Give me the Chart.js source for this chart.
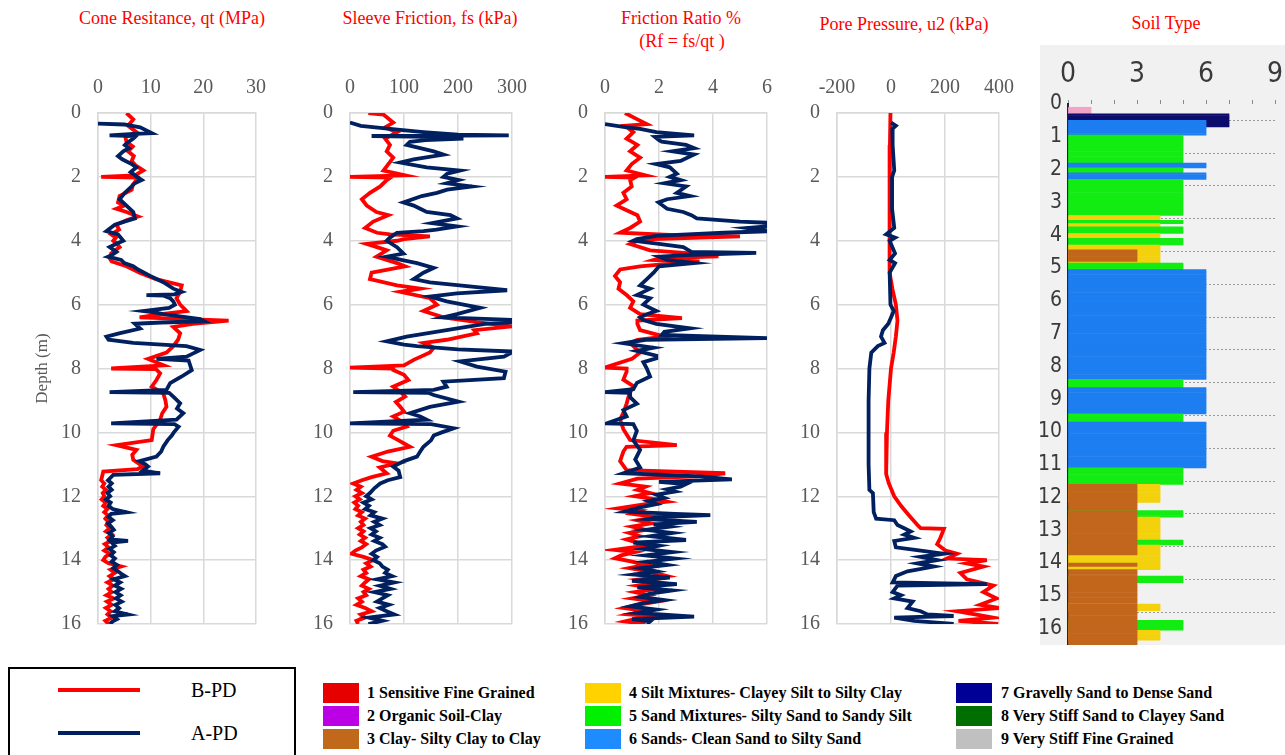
<!DOCTYPE html>
<html>
<head>
<meta charset="utf-8">
<script src="https://cdn.jsdelivr.net/npm/chart.js@4.4.1/dist/chart.umd.min.js"></script>
<style>
  body { margin: 0; width: 1285px; height: 755px; background: #fff; position: relative; overflow: hidden; font-family: 'Liberation Serif', 'Times New Roman', serif; }
  canvas { position: absolute; }
  .title { position: absolute; color: #ff0000; font-size: 18px; line-height: 20px; white-space: nowrap; transform: translate(-50%, -50%); text-align: center; }
  .legbox { position: absolute; left: 8px; top: 667px; width: 284px; height: 110px; border: 2px solid #000; }
  .legline { position: absolute; left: 58px; width: 82px; height: 4px; }
  .legtxt { position: absolute; font-size: 20px; transform: translateY(-50%); }
  .sw { position: absolute; width: 36px; height: 20px; }
  .swtxt { position: absolute; font-weight: bold; font-size: 16px; transform: translateY(-50%); white-space: nowrap; color: #000; }
  #soilbg { position: absolute; left: 1040px; top: 45px; width: 245px; height: 600px; background: #f1f1f1; }
</style>
</head>
<body>
<div class="title" style="left:172px; top:18px;">Cone Resitance, qt (MPa)</div>
<div class="title" style="left:430px; top:18px;">Sleeve Friction, fs (kPa)</div>
<div class="title" style="left:681px; top:18px;">Friction Ratio %</div>
<div class="title" style="left:682px; top:41px;">(Rf = fs/qt )</div>
<div class="title" style="left:904px; top:24px;">Pore Pressure, u2 (kPa)</div>
<div class="title" style="left:1166px; top:23px;">Soil Type</div>

<canvas id="qt" width="280" height="580" style="left:0px; top:60px;"></canvas>
<canvas id="fs" width="246" height="580" style="left:290px; top:60px;"></canvas>
<canvas id="rf" width="246" height="580" style="left:545px; top:60px;"></canvas>
<canvas id="u2" width="246" height="580" style="left:777px; top:60px;"></canvas>
<div id="soilbg"></div>
<canvas id="soil" width="245" height="600" style="left:1040px; top:45px;"></canvas>

<div class="legbox"></div>
<div class="legline" style="top:688px; background:#ff0000;"></div>
<div class="legtxt" style="left:191px; top:690px;">B-PD</div>
<div class="legline" style="top:731px; background:#002060;"></div>
<div class="legtxt" style="left:191px; top:733px;">A-PD</div>
<div id="soilLegend"></div>

<script>
// profondità (m) / valore — A-PD in blu, B-PD in rosso
const qtB = [[0,5.4],[0.2,6.7],[0.4,5.7],[0.6,7.3],[0.75,5.2],[0.9,5.4],[1.05,6.6],[1.2,5.7],[1.35,6.8],[1.5,6.4],[1.65,7.2],[1.8,8.6],[1.95,7.0],[2.0,0.6],[2.02,7.5],[2.1,7.3],[2.25,6.6],[2.4,6.4],[2.6,4.1],[2.8,3.8],[2.9,5.0],[3.0,3.5],[3.1,5.4],[3.24,7.6],[3.35,5.5],[3.5,3.5],[3.65,4.0],[3.8,2.5],[3.9,3.4],[4.0,2.9],[4.1,3.6],[4.2,4.1],[4.3,3.3],[4.4,2.5],[4.55,2.2],[4.65,2.6],[4.8,5.4],[5.0,7.9],[5.2,11],[5.4,15.9],[5.6,15.6],[5.8,14.9],[6.0,15.6],[6.2,16.8],[6.3,12],[6.4,7.9],[6.5,24.8],[6.6,18],[6.7,14.3],[6.9,15.6],[7.1,15.2],[7.3,14.3],[7.5,13],[7.7,9.5],[7.9,12.5],[8.0,2.5],[8.02,11],[8.15,11.8],[8.36,11.1],[8.57,10.2],[8.78,12.4],[9.0,12.8],[9.2,13],[9.4,12.2],[9.6,11.8],[9.9,10.5],[10.24,10.2],[10.4,3.5],[10.55,7.3],[10.7,6.5],[10.86,6.7],[11.07,8.6],[11.15,7.5],[11.23,1.0],[11.5,0.6],[11.6,1.2],[11.7,0.8],[11.8,1.5],[11.9,0.9],[12.0,1.2],[12.1,0.7],[12.2,1.5],[12.3,1.0],[12.4,1.8],[12.5,1.2],[12.6,1.9],[12.7,1.4],[12.8,2.0],[12.9,1.6],[13.0,2.2],[13.1,1.5],[13.2,2.6],[13.3,1.8],[13.4,2.4],[13.5,1.3],[13.6,2.0],[13.7,1.2],[13.8,2.2],[13.9,1.4],[14.0,1.0],[14.1,2.0],[14.2,4.4],[14.3,2.4],[14.4,3.2],[14.5,2.2],[14.6,3.0],[14.7,1.8],[14.8,2.8],[14.9,2.0],[15.0,2.6],[15.1,1.6],[15.2,3.0],[15.3,1.7],[15.4,2.6],[15.5,1.5],[15.6,2.4],[15.7,1.8],[15.8,2.6],[15.9,1.4],[16.0,2.0]];
const qtA = [[0.33,0],[0.36,5],[0.45,8],[0.63,10.2],[0.66,6],[0.7,2.2],[0.72,7.2],[0.8,6.7],[0.95,5.4],[1.0,5.1],[1.1,5.9],[1.2,4.8],[1.35,3.8],[1.45,4.6],[1.6,6.4],[1.7,7.3],[1.85,6.2],[2.0,7.4],[2.1,8.3],[2.2,7.0],[2.3,6.4],[2.5,5.1],[2.7,4.1],[2.9,5.4],[3.1,6.7],[3.3,7.0],[3.4,5.0],[3.5,3.2],[3.65,2.0],[3.7,1.6],[3.8,3.8],[4.0,4.8],[4.1,3.4],[4.2,2.2],[4.35,3.5],[4.45,2.6],[4.5,1.9],[4.6,4.4],[4.7,5.0],[4.8,6.7],[4.9,7.6],[5.1,9.9],[5.3,12.4],[5.5,14.3],[5.6,15.9],[5.68,14.5],[5.7,9.2],[5.72,12.5],[5.8,13.7],[5.9,14.3],[6.0,14.6],[6.1,13.5],[6.2,8.6],[6.25,11],[6.3,12.4],[6.45,19.4],[6.52,20.2],[6.56,12],[6.6,7.0],[6.75,8.0],[6.9,4],[7.0,1.6],[7.1,2.0],[7.2,6.7],[7.3,16.8],[7.42,19.4],[7.55,17.8],[7.63,16.8],[7.7,11.1],[7.75,17.2],[8.05,17.8],[8.25,15.9],[8.46,13.7],[8.67,13.0],[8.74,2.2],[8.76,13.5],[8.88,14.3],[9.09,15.6],[9.25,15.0],[9.4,16.2],[9.6,14.9],[9.72,2.5],[9.74,14.5],[9.82,15.3],[10.0,14.4],[10.1,14.0],[10.25,13.2],[10.45,12.4],[10.6,12.0],[10.76,11.1],[10.9,7.9],[11.0,9.0],[11.07,9.5],[11.2,8.5],[11.28,11.8],[11.33,2.9],[11.5,1.9],[11.6,2.6],[11.7,2.0],[11.8,2.6],[11.9,1.8],[12.0,2.3],[12.1,1.5],[12.2,2.4],[12.3,2.0],[12.4,2.8],[12.5,5.4],[12.55,2.5],[12.65,2.0],[12.75,2.8],[12.85,1.9],[12.95,2.5],[13.05,3.0],[13.15,2.1],[13.25,2.8],[13.35,2.3],[13.4,5.7],[13.45,2.6],[13.55,3.2],[13.65,2.2],[13.75,3.0],[13.85,2.4],[13.95,3.2],[14.05,2.6],[14.15,3.6],[14.25,2.9],[14.35,3.8],[14.45,4.6],[14.5,5.1],[14.6,3.0],[14.7,4.2],[14.8,3.2],[14.9,4.4],[15.0,3.3],[15.1,4.3],[15.2,3.4],[15.3,4.5],[15.4,3.3],[15.5,4.0],[15.6,3.2],[15.7,5.7],[15.75,2.8],[15.85,3.6],[15.92,2.8],[16.0,2.2]];

const fsB = [[0,34],[0.05,62],[0.3,80],[0.45,65],[0.6,87],[0.8,65],[1.0,74],[1.2,68],[1.4,80],[1.6,71],[1.8,62],[1.95,102],[2.0,0],[2.02,75],[2.1,68],[2.3,56],[2.5,37],[2.7,22],[2.9,31],[3.1,49],[3.2,71],[3.4,43],[3.6,28],[3.75,50],[3.8,74],[3.86,148],[3.95,100],[4.0,87],[4.1,31],[4.2,50],[4.3,68],[4.5,49],[4.7,87],[4.8,102],[5.0,40],[5.2,37],[5.4,87],[5.5,130],[5.6,93],[5.8,148],[6.0,161],[6.2,136],[6.4,173],[6.55,235],[6.68,300],[6.8,230],[6.9,235],[7.1,179],[7.2,136],[7.35,155],[7.5,148],[7.73,118],[7.9,100],[7.97,0],[8.0,80],[8.05,80],[8.2,100],[8.36,108],[8.57,80],[8.75,95],[8.88,102],[9.05,85],[9.2,93],[9.35,100],[9.5,80],[9.65,95],[9.82,105],[9.95,80],[10.1,74],[10.25,90],[10.45,111],[10.6,70],[10.76,40],[10.9,60],[10.97,87],[11.1,55],[11.28,68],[11.4,40],[11.5,22],[11.6,6],[11.7,20],[11.8,12],[11.9,22],[12.0,10],[12.1,18],[12.2,8],[12.3,15],[12.4,10],[12.5,22],[12.6,15],[12.7,28],[12.8,20],[12.9,25],[13.0,15],[13.1,25],[13.2,18],[13.3,28],[13.4,20],[13.5,30],[13.6,22],[13.7,10],[13.8,3],[13.9,25],[14.0,43],[14.1,30],[14.2,38],[14.3,25],[14.4,30],[14.5,20],[14.6,35],[14.7,28],[14.8,22],[14.9,35],[15.0,25],[15.1,30],[15.2,15],[15.3,22],[15.4,12],[15.5,28],[15.6,40],[15.7,20],[15.8,28],[15.9,12],[16.0,15]];
const fsA = [[0.3,0],[0.4,20],[0.5,74],[0.6,136],[0.68,200],[0.7,294],[0.72,40],[0.75,150],[0.8,210],[0.85,140],[0.9,111],[1.0,105],[1.1,130],[1.2,155],[1.3,173],[1.45,118],[1.55,93],[1.7,142],[1.8,204],[1.9,180],[2.0,173],[2.1,201],[2.2,179],[2.3,226],[2.4,180],[2.5,161],[2.6,133],[2.8,99],[2.9,118],[3.0,130],[3.1,142],[3.2,186],[3.3,198],[3.45,152],[3.55,198],[3.65,160],[3.7,136],[3.75,87],[3.9,74],[4.0,68],[4.2,87],[4.4,99],[4.5,68],[4.6,95],[4.7,124],[4.85,155],[5.0,136],[5.2,118],[5.3,148],[5.45,235],[5.55,291],[5.65,198],[5.75,148],[5.9,179],[6.1,241],[6.3,198],[6.4,173],[6.48,303],[6.55,303],[6.6,250],[6.8,179],[7.0,105],[7.15,68],[7.25,100],[7.3,124],[7.4,200],[7.47,303],[7.63,285],[7.78,204],[7.94,235],[8.1,288],[8.3,285],[8.41,173],[8.57,179],[8.67,155],[8.74,6],[8.76,145],[8.83,155],[9.04,201],[9.2,148],[9.4,111],[9.5,130],[9.6,142],[9.72,0],[9.74,150],[9.87,192],[10.0,170],[10.1,155],[10.25,150],[10.45,136],[10.6,130],[10.76,124],[10.9,100],[11.07,80],[11.2,90],[11.4,93],[11.5,70],[11.6,56],[11.75,45],[11.9,37],[12.0,30],[12.1,40],[12.2,25],[12.3,35],[12.4,28],[12.5,45],[12.6,38],[12.7,60],[12.8,45],[12.9,55],[13.0,38],[13.1,48],[13.2,40],[13.3,55],[13.4,45],[13.5,60],[13.58,65],[13.7,48],[13.8,40],[13.9,50],[14.0,43],[14.1,55],[14.2,60],[14.3,70],[14.4,65],[14.5,78],[14.6,50],[14.7,82],[14.8,55],[14.9,75],[15.0,45],[15.1,70],[15.2,60],[15.3,50],[15.4,72],[15.5,55],[15.6,68],[15.7,82],[15.8,35],[15.9,60],[16.0,34]];

const rfB = [[0,0.74],[0.2,1.2],[0.35,1.55],[0.4,0.74],[0.5,0.9],[0.6,1.05],[0.8,0.8],[1.0,1.2],[1.2,0.93],[1.4,1.3],[1.6,0.99],[1.8,0.8],[1.95,1.5],[2.0,0],[2.02,1.1],[2.1,0.93],[2.3,0.99],[2.5,0.68],[2.7,0.8],[2.9,0.43],[3.0,0.68],[3.2,1.2],[3.4,1.3],[3.6,0.93],[3.75,0.56],[3.82,2.4],[3.86,5.0],[3.95,1.8],[4.0,1.2],[4.1,0.93],[4.3,1.67],[4.4,3.3],[4.49,4.2],[4.55,2.0],[4.6,1.8],[4.65,3.5],[4.75,2.0],[4.8,1.3],[4.9,0.56],[5.1,0.37],[5.3,0.56],[5.5,0.5],[5.7,0.8],[5.9,1.05],[6.1,0.93],[6.3,1.3],[6.42,2.85],[6.5,1.2],[6.6,1.2],[6.8,1.3],[7.0,2.2],[7.1,1.2],[7.2,0.93],[7.5,1.3],[7.7,1.0],[7.97,0],[8.0,0.8],[8.1,0.8],[8.35,0.68],[8.55,1.05],[8.8,0.9],[9.1,0.8],[9.35,0.7],[9.6,0.56],[9.9,0.68],[10.24,0.93],[10.4,2.66],[10.45,0.8],[10.6,0.68],[10.9,0.56],[11.18,0.8],[11.28,4.45],[11.38,3.4],[11.45,1.2],[11.6,0.56],[11.7,1.5],[11.8,1.2],[11.9,1.67],[12.0,1.1],[12.1,1.9],[12.17,2.3],[12.25,1.5],[12.38,0.5],[12.45,1.3],[12.55,1.0],[12.65,1.9],[12.75,1.2],[12.85,1.7],[12.95,1.0],[13.05,1.5],[13.15,0.9],[13.25,1.3],[13.35,0.8],[13.45,1.2],[13.55,1.5],[13.68,0.37],[13.75,1.1],[13.85,0.6],[13.94,0.37],[14.05,1.0],[14.15,1.5],[14.25,0.9],[14.35,1.6],[14.5,2.3],[14.6,1.3],[14.7,2.0],[14.8,1.2],[14.9,1.9],[15.0,1.1],[15.1,1.6],[15.2,1.0],[15.3,1.9],[15.4,1.2],[15.5,0.7],[15.6,1.5],[15.7,0.9],[15.77,1.9],[15.85,1.1],[15.92,0.74],[16.0,1.5]];
const rfA = [[0.35,0],[0.45,0.8],[0.5,1.3],[0.6,1.9],[0.7,3.3],[0.75,1.85],[0.85,2.0],[0.9,2.1],[1.0,3.0],[1.1,3.3],[1.2,2.5],[1.3,3.3],[1.5,2.8],[1.6,1.9],[1.7,2.4],[1.9,2.66],[2.0,2.4],[2.1,2.8],[2.2,2.2],[2.3,3.0],[2.5,2.66],[2.6,3.15],[2.7,2.3],[2.8,1.98],[3.0,2.3],[3.1,2.9],[3.2,3.2],[3.3,3.4],[3.4,5.0],[3.44,6.1],[3.55,6.0],[3.6,5.26],[3.7,6.1],[3.75,4.4],[3.85,1.9],[3.95,1.18],[4.0,1.05],[4.1,2.0],[4.2,2.9],[4.35,3.2],[4.38,5.6],[4.45,3.0],[4.5,2.0],[4.6,2.3],[4.7,3.3],[4.8,2.0],[5.0,1.8],[5.2,1.55],[5.4,1.3],[5.5,1.67],[5.7,1.18],[5.8,1.67],[6.0,1.42],[6.2,1.9],[6.3,1.55],[6.4,1.3],[6.48,1.42],[6.6,1.9],[6.74,3.15],[6.85,2.2],[6.95,2.1],[7.05,6.06],[7.1,1.5],[7.21,0.68],[7.35,1.8],[7.45,1.18],[7.6,1.9],[7.68,1.9],[7.8,1.42],[8.0,1.55],[8.25,1.67],[8.45,1.18],[8.65,1.05],[8.74,0],[8.76,0.93],[8.9,0.93],[9.1,1.18],[9.3,0.68],[9.5,0.8],[9.72,0.06],[9.74,1.05],[9.95,1.18],[10.25,1.05],[10.55,1.3],[10.85,1.12],[11.1,1.3],[11.28,0.68],[11.38,3.5],[11.47,4.7],[11.55,2.0],[11.62,3.0],[11.7,2.8],[11.78,2.3],[11.85,2.6],[11.95,1.9],[12.05,2.2],[12.15,1.6],[12.25,1.9],[12.35,1.3],[12.48,0.74],[12.55,2.6],[12.59,3.9],[12.65,2.0],[12.72,1.6],[12.8,3.4],[12.88,1.8],[12.95,2.4],[13.05,1.5],[13.15,2.5],[13.25,1.7],[13.37,3.0],[13.45,1.05],[13.55,2.0],[13.65,1.4],[13.75,2.5],[13.85,1.5],[13.95,2.6],[14.05,1.55],[14.15,2.3],[14.25,1.3],[14.35,1.9],[14.45,1.05],[14.55,2.4],[14.65,1.0],[14.75,2.66],[14.85,1.2],[14.95,2.5],[15.05,1.67],[15.15,1.3],[15.25,2.2],[15.35,1.4],[15.45,0.93],[15.55,1.9],[15.65,1.2],[15.77,3.3],[15.85,1.0],[15.92,1.67],[16.0,1.55]];

const u2B = [[0,-2],[1,-4],[2,-5],[3,-6],[4,-6],[5,-4],[5.5,5],[6,18],[6.5,24],[7,18],[7.5,10],[8,0],[9,-10],[10,-15],[11,-18],[11.3,-18],[11.6,-8],[12,12],[12.3,37],[12.6,67],[12.9,98],[13.0,110],[13.02,196],[13.3,183],[13.5,171],[13.7,202],[13.8,245],[13.95,208],[14.0,355],[14.1,281],[14.2,342],[14.4,257],[14.6,281],[14.8,379],[15.0,342],[15.2,391],[15.4,330],[15.5,404],[15.6,245],[15.8,379],[15.9,250],[16.0,397]];
const u2A = [[0.3,0],[0.4,18],[0.5,5],[1.0,6],[1.8,12],[2,4],[3,4],[3.6,12],[3.8,-18],[3.9,15],[4.0,-5],[4.4,15],[4.6,-5],[4.7,15],[5,-5],[6,-2],[6.2,10],[6.4,0],[6.6,-10],[6.8,-30],[7.0,-37],[7.2,-24],[7.3,-49],[7.5,-73],[8,-80],[9,-83],[10,-83],[11,-83],[11.8,-80],[11.9,-67],[12.5,-64],[12.7,-55],[12.75,12],[12.9,24],[13.0,49],[13.1,73],[13.2,49],[13.3,86],[13.4,12],[13.6,18],[13.7,110],[13.8,196],[13.9,110],[14.0,171],[14.1,98],[14.2,159],[14.35,61],[14.5,18],[14.6,12],[14.7,6],[14.75,355],[14.8,24],[15.0,6],[15.1,37],[15.2,12],[15.3,80],[15.5,61],[15.6,110],[15.7,135],[15.75,232],[15.8,12],[15.9,86],[16.0,232]];

// strati del tipo di suolo: profondità iniziale, tipo (barra lunga), tipo interno (barra corta, 0 = nessuna)
const soilTop   = [0.10, 0.30, 0.50, 0.70, 0.95, 1.80, 1.95, 2.10, 2.30, 3.40, 3.55, 3.65, 3.75, 3.95, 4.10, 4.30, 4.45, 4.80, 4.85, 5.05, 8.40, 8.65, 9.45, 9.70, 11.10, 11.60, 12.00, 12.15, 12.40, 12.60, 13.30, 13.45, 13.75, 14.00, 14.10, 14.20, 14.40, 14.60, 15.25, 15.45, 15.75, 16.05, 16.35];
const soilType  = [1, 7, 7, 6, 5, 6, 5, 6, 5, 4, 5, 4, 5, 4, 5, 4, 4, 4, 5, 6, 5, 6, 5, 6, 5, 4, 4, 3, 5, 4, 5, 4, 4, 4, 4, 3, 5, 3, 4, 3, 5, 4, 3];
const soilInner = [0, 0, 6, 0, 0, 0, 0, 0, 0, 0, 0, 0, 0, 0, 0, 0, 3, 0, 0, 0, 0, 0, 0, 0, 0, 3, 3, 0, 3, 3, 3, 3, 0, 3, 0, 0, 3, 0, 3, 0, 3, 3, 0];
const soilBottom = 16.5;
const soilColors = {1: '#f3a3c6', 2: '#bb00e0', 3: '#c2661c', 4: '#f3d10c', 5: '#12ec12', 6: '#1c7ef0', 7: '#0c0c6c', 8: '#007000', 9: '#c0c0c0'};

const legendItems = [
  ['1 Sensitive Fine Grained', '#e60000'],
  ['2 Organic Soil-Clay', '#bb00e6'],
  ['3 Clay- Silty Clay to Clay', '#c0691a'],
  ['4 Silt Mixtures- Clayey Silt to Silty Clay', '#ffd200'],
  ['5 Sand Mixtures- Silty Sand to Sandy Silt', '#00f000'],
  ['6 Sands- Clean Sand to Silty Sand', '#1e8cff'],
  ['7 Gravelly Sand to Dense Sand', '#000096'],
  ['8 Very Stiff Sand to Clayey Sand', '#006e00'],
  ['9 Very Stiff Fine Grained', '#c0c0c0']
];

const serif = "'Liberation Serif', 'Times New Roman', serif";
const gridGrey = '#d9d9d9';

function toPoints(arr) {
  return arr.map(p => ({ x: p[1], y: p[0] }));
}

// Crea un pannello profilo (profondità verso il basso)
function drawProfile(id, seriesA, seriesB, xMin, xMax, xStep, yWidth, showDepthTitle) {
  const ctx = document.getElementById(id).getContext('2d');
  return new Chart(ctx, {
    type: 'scatter',
    data: {
      datasets: [
        { label: 'A-PD', data: toPoints(seriesA), borderColor: '#002060', backgroundColor: '#002060', showLine: true, borderWidth: 3.8, pointRadius: 0, order: 0 },
        { label: 'B-PD', data: toPoints(seriesB), borderColor: '#ff0000', backgroundColor: '#ff0000', showLine: true, borderWidth: 3.8, pointRadius: 0, order: 1 }
      ]
    },
    options: {
      responsive: false,
      animation: false,
      layout: { padding: { top: 0, right: 24, bottom: 16, left: 0 } },
      plugins: { legend: { display: false }, tooltip: { enabled: false } },
      scales: {
        x: {
          type: 'linear', position: 'top', min: xMin, max: xMax,
          ticks: { stepSize: xStep, color: '#595959', font: { family: serif, size: 20 }, padding: 13 },
          grid: { color: gridGrey, lineWidth: 1.5, drawTicks: false },
          border: { color: gridGrey, width: 1.5 },
          afterFit: s => { s.height = 53; s.paddingLeft = 0; s.paddingRight = 0; }
        },
        y: {
          type: 'linear', reverse: true, min: 0, max: 16,
          ticks: { stepSize: 2, color: '#595959', font: { family: serif, size: 20 }, padding: 17 },
          grid: { color: gridGrey, lineWidth: 1.5, drawTicks: false },
          border: { color: gridGrey, width: 1.5 },
          title: { display: showDepthTitle, text: 'Depth (m)', color: '#595959', font: { family: serif, size: 17 }, padding: { top: 32, bottom: 0 } },
          afterFit: s => { s.width = yWidth; s.paddingTop = 0; s.paddingBottom = 0; }
        }
      }
    }
  });
}

drawProfile('qt', qtA, qtB, 0, 30, 10, 98, true);
drawProfile('fs', fsA, fsB, 0, 300, 100, 60, false);
drawProfile('rf', rfA, rfB, 0, 6, 2, 60, false);
drawProfile('u2', u2A, u2B, -200, 400, 200, 60, false);

// Celle di 0.05 m costruite dagli strati
const longBars = [], longColors = [], innerBars = [], innerColors = [];
soilTop.forEach((top, i) => {
  const bottom = i + 1 < soilTop.length ? soilTop[i + 1] : soilBottom;
  const n = Math.round((bottom - top) / 0.05);
  for (let k = 0; k < n; k++) {
    const d = top + k * 0.05 + 0.025;
    longBars.push({ x: soilType[i], y: d });
    longColors.push(soilColors[soilType[i]]);
    if (soilInner[i] > 0) {
      innerBars.push({ x: soilInner[i], y: d });
      innerColors.push(soilColors[soilInner[i]]);
    }
  }
});

const narrow = "'Liberation Sans Narrow', 'DejaVu Sans Condensed', Arial, sans-serif";
new Chart(document.getElementById('soil').getContext('2d'), {
  type: 'bar',
  data: {
    datasets: [
      { label: 'inner', data: innerBars, backgroundColor: innerColors, order: 0 },
      { label: 'type', data: longBars, backgroundColor: longColors, order: 1 }
    ]
  },
  options: {
    indexAxis: 'y',
    responsive: false,
    animation: false,
    layout: { padding: { top: 0, right: 10, bottom: 0, left: 0 } },
    plugins: { legend: { display: false }, tooltip: { enabled: false } },
    datasets: { bar: { barPercentage: 1, categoryPercentage: 1, grouped: false, borderWidth: 0 } },
    scales: {
      x: {
        type: 'linear', position: 'top', min: 0, max: 9,
        ticks: { stepSize: 1, color: '#3a3a3a', font: { family: narrow, size: 28 }, padding: 8,
                 callback: v => (v % 3 === 0 ? v : '') },
        grid: { drawOnChartArea: false, drawTicks: true, tickLength: 4, color: '#8a8a8a' },
        border: { display: false },
        afterFit: s => { s.height = 59; s.paddingLeft = 0; s.paddingRight = 0; }
      },
      y: {
        type: 'linear', reverse: true, min: 0, max: soilBottom, offset: false,
        ticks: { stepSize: 1, includeBounds: false, color: '#3a3a3a', font: { family: narrow, size: 21 }, padding: 6 },
        grid: { color: '#9a9a9a', lineWidth: 1, drawTicks: false },
        border: { color: '#23234a', width: 2, dash: [2, 2] },
        afterFit: s => { s.width = 28; s.paddingTop = 0; s.paddingBottom = 0; }
      }
    }
  }
});

// Legenda dei tipi di suolo
const legendCols = [[323, 367], [585, 629], [956, 1001]];
const legendRows = [693, 716, 739];
const legendHost = document.getElementById('soilLegend');
legendItems.forEach((item, i) => {
  const col = legendCols[Math.floor(i / 3)];
  const row = legendRows[i % 3];
  const sw = document.createElement('div');
  sw.className = 'sw';
  sw.style.left = col[0] + 'px';
  sw.style.top = (row - 10) + 'px';
  sw.style.background = item[1];
  legendHost.appendChild(sw);
  const tx = document.createElement('div');
  tx.className = 'swtxt';
  tx.style.left = col[1] + 'px';
  tx.style.top = row + 'px';
  tx.textContent = item[0];
  legendHost.appendChild(tx);
});
</script>
</body>
</html>
